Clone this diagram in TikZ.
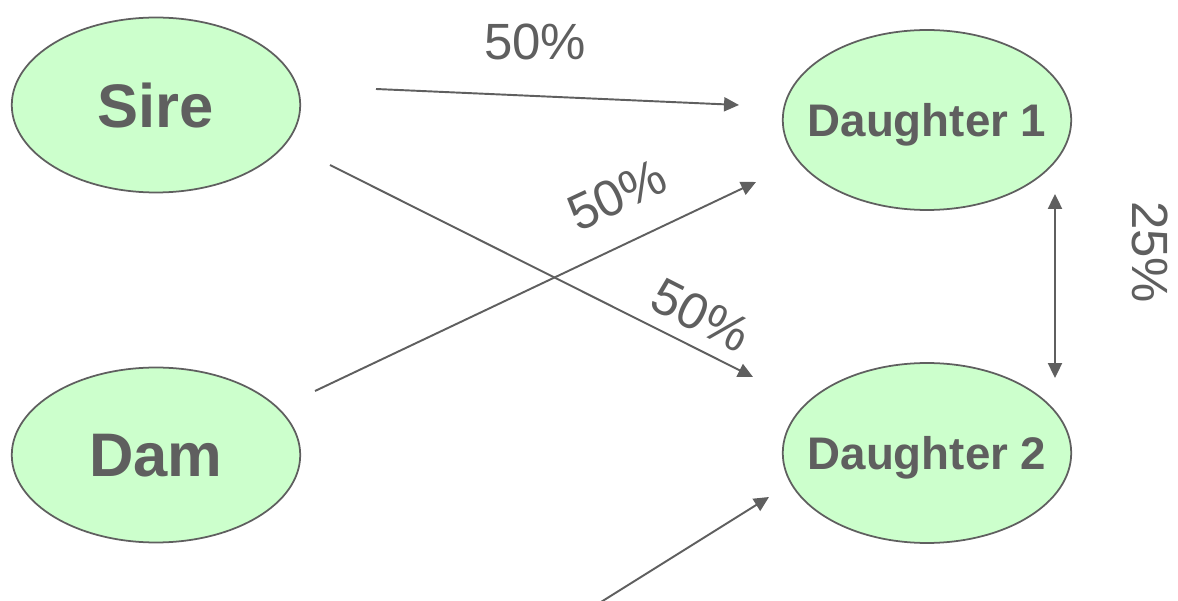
\documentclass[tikz,border=0pt]{standalone}
\usepackage{fontspec}
\setmainfont{Liberation Sans}
\definecolor{lgruen}{HTML}{CCFFCC}
\definecolor{dgrau}{HTML}{5F5F5F}
\usetikzlibrary{arrows.meta, shapes, positioning, calc}

\begin{document}
\begin{tikzpicture}[x=0.02cm, y=-0.02cm, every node/.style={text=dgrau},
                    >={Triangle[length=8.5pt, width=8pt]}]
        \tikzset{
          tier/.style={ellipse, draw=dgrau, line width=1pt, fill=lgruen,
                       inner sep=0pt, minimum width=5.77cm, text depth=0pt,
                       minimum height=3.5cm, font=\bfseries\fontsize{35}{40}\selectfont},
          kind/.style={tier, minimum height=3.6cm, inner xsep=-0.45cm,
                       font=\bfseries\fontsize{26}{30}\selectfont},
          pfeil/.style={draw=dgrau, line width=1.1pt, ->},
          anteil/.style={font=\fontsize{29}{32}\selectfont}
        }
        \useasboundingbox (0,0) rectangle (1178,601);

        \node[tier] (sire) at (156, 105) {Sire};
        \node[tier] (dam)  at (156, 455) {Dam};
        \node[kind] (d1)   at (927, 120) {Daughter 1};
        \node[kind] (d2)   at (927, 453) {Daughter 2};

        % Endpunkte der Pfeile
        \coordinate (s1) at (376, 89);   \coordinate (e1) at (739, 105);
        \coordinate (s2) at (330, 165);  \coordinate (e2) at (753, 377);
        \coordinate (s3) at (315, 391);  \coordinate (e3) at (756, 182);
        \coordinate (s4) at (585, 612);  \coordinate (e4) at (769, 497);
        \coordinate (u1) at (1055, 194); \coordinate (u2) at (1055, 378);

        \draw[pfeil] (s1) -- (e1);
        \draw[pfeil] (s2) -- (e2);
        \draw[pfeil] (s3) -- (e3);
        \draw[pfeil] (s4) -- (e4);
        \draw[pfeil, <->] (u1) -- (u2);

        \node[anteil] (p1) at (535, 42) {50\%};
        \node[anteil, rotate=25] (p2) at (617, 195) {50\%};
        \node[anteil, rotate=-27] (p3) at (701, 315) {50\%};
        \node[anteil, rotate=-90] (p4) at (1150, 252) {25\%};
      \end{tikzpicture}
\end{document}
